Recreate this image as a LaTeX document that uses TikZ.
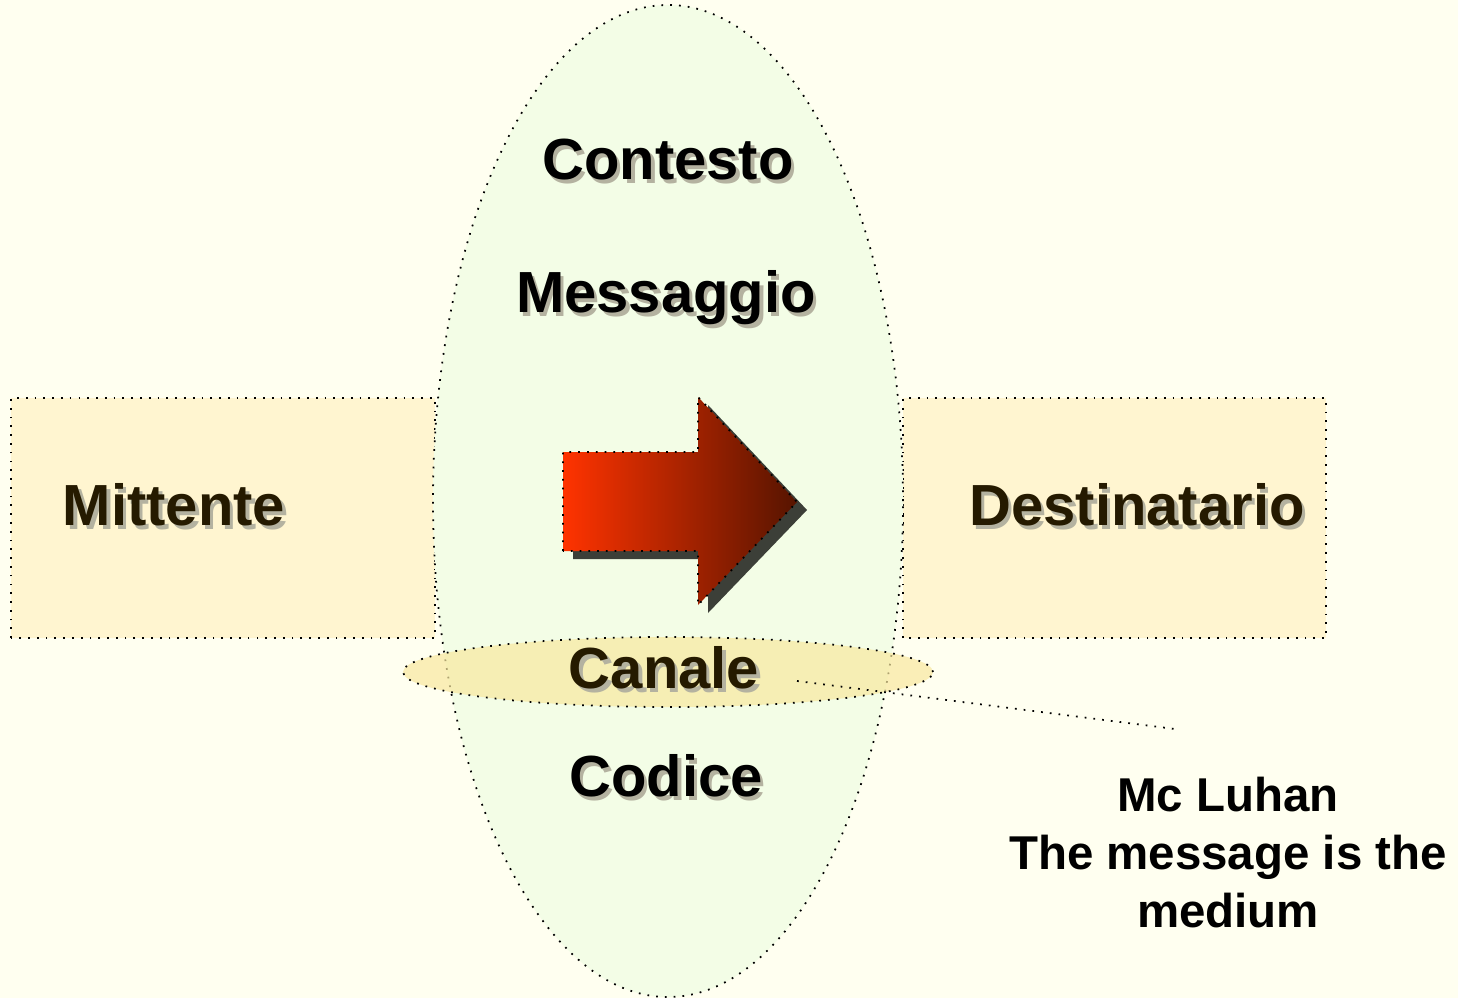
\documentclass[tikz,border=0pt]{standalone}
\usepackage{fontspec}
\setmainfont{Liberation Sans}
\usepackage{xcolor}
\usepackage{tikz}
\usetikzlibrary{shapes,backgrounds,calc,positioning}

\definecolor{paper}{HTML}{FFFFF0}
\definecolor{ctxgreen}{HTML}{F3FDE6}
\definecolor{boxcream}{HTML}{FFF5D0}
\definecolor{chanyellow}{HTML}{F8E8A0}
\definecolor{darkbrown}{HTML}{251A00}
\definecolor{shadowgray}{HTML}{B4B2A0}
\definecolor{arrowred}{HTML}{FF3300}
\definecolor{arrowdark}{HTML}{561400}
\definecolor{arrowshadow}{HTML}{3C3F38}

% label with a light drop shadow
\newcommand{\shadowlabel}[4]{%
  \node[biglabel,text=shadowgray] at ($(#2)+(0.035,-0.035)$) {#4};
  \node[biglabel,text=#3] (#1) at (#2) {#4};
}

\begin{document}
\begin{tikzpicture}
        % Styles
        \tikzstyle{biglabel}=[font=\bfseries\fontsize{16.5}{20}\selectfont, inner sep=0pt];
        \tikzstyle{smalllabel}=[font=\bfseries\fontsize{13.5}{16.5}\selectfont, align=center, inner sep=0pt];
        \tikzstyle{dotline}=[draw=black, dotted, line width=0.5pt];

        % Page
        \useasboundingbox (0,0) rectangle (14.58,9.98);
        \fill[paper] (0,0) rectangle (14.58,9.98);

        % Sender and receiver boxes
        \draw[dotline, fill=boxcream] (0.11,3.60) rectangle (4.35,6.00);
        \draw[dotline, fill=boxcream] (9.03,3.60) rectangle (13.26,6.00);

        % Big context ellipse
        \coordinate (C) at (6.68,4.97);
        \draw[dotline, fill=ctxgreen] (C) ellipse (2.35cm and 4.96cm);

        % Channel ellipse (see-through)
        \coordinate (K) at (6.68,3.26);
        \fill[chanyellow, opacity=0.7] (K) ellipse (2.65cm and 0.35cm);
        \draw[dotline] (K) ellipse (2.65cm and 0.35cm);

        % Arrow with shadow
        \fill[arrowshadow] (5.73,4.39) -- (5.73,5.38) -- (7.08,5.38) -- (7.08,5.93)
            -- (8.07,4.88) -- (7.08,3.85) -- (7.08,4.39) -- cycle;
        \draw[dotline, left color=arrowred, right color=arrowdark]
            (5.63,4.47) -- (5.63,5.46) -- (6.98,5.46) -- (6.98,6.01)
            -- (7.97,4.96) -- (6.98,3.93) -- (6.98,4.47) -- cycle;

        % Labels
        \shadowlabel{contesto}{6.68,8.38}{black}{Contesto}
        \shadowlabel{messaggio}{6.66,7.00}{black}{Messaggio}
        \shadowlabel{mittente}{1.74,4.93}{darkbrown}{Mittente}
        \shadowlabel{destinatario}{11.37,4.93}{darkbrown}{Destinatario}
        \shadowlabel{canale}{6.64,3.30}{darkbrown}{Canale}
        \shadowlabel{codice}{6.66,2.22}{black}{Codice}

        % Callout
        \node[smalllabel] (luhan) at (12.28,1.45) {Mc Luhan\\The message is the\\medium};
        \coordinate (callfrom) at (7.97,3.17);
        \coordinate (callto) at (11.75,2.69);
        \draw[dotline] (callfrom) -- (callto);

    \end{tikzpicture}
\end{document}
